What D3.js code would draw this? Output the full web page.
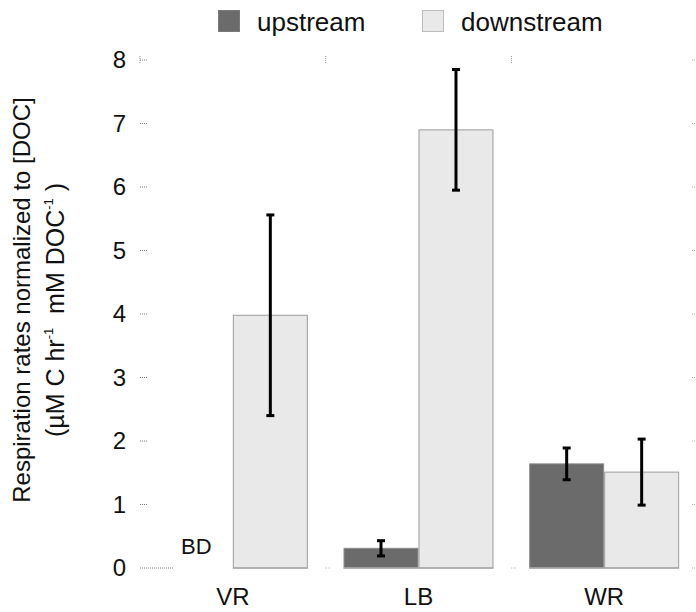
<!DOCTYPE html>
<html>
<head>
<meta charset="utf-8">
<script src="https://cdn.jsdelivr.net/npm/d3@7"></script>
<style>
  html, body { margin: 0; padding: 0; background: #fff; }
  svg { display: block; font-family: "Liberation Sans", Arial, sans-serif; }
</style>
</head>
<body>
<svg id="chart" width="696" height="612"></svg>
<script>
// Sites and series
const categories = ["VR", "LB", "WR"];
const seriesNames = ["upstream", "downstream"];
// Respiration rates normalized to [DOC]; null = below detection (BD)
const upstreamValues = [null, 0.31, 1.64];
const upstreamErr = [null, 0.12, 0.25];
const downstreamValues = [3.98, 6.90, 1.51];
const downstreamErr = [1.58, 0.95, 0.52];
const yTicks = [0, 1, 2, 3, 4, 5, 6, 7, 8];

const colors = { upstream: "#6b6b6b", downstream: "#e9e9e9" };
const strokes = { upstream: "#8c8c8c", downstream: "#9c9c9c" };

const rows = [];
categories.forEach((c, i) => {
  rows.push({ cat: c, series: "upstream", value: upstreamValues[i], err: upstreamErr[i] });
  rows.push({ cat: c, series: "downstream", value: downstreamValues[i], err: downstreamErr[i] });
});

const svg = d3.select("#chart");
const plotLeft = 140, plotRight = 697, plotTop = 60, plotBottom = 568;

const x0 = d3.scaleBand().domain(categories).range([plotLeft, plotRight]).paddingInner(0).paddingOuter(0);
const x1 = d3.scaleBand().domain(seriesNames).range([0, x0.bandwidth()])
  .paddingInner(0).paddingOuter(0.238);
const y = d3.scaleLinear().domain([0, 8]).range([plotBottom, plotTop]);

// Y axis: labels plus short dotted ticks, no domain line
const yAxis = d3.axisLeft(y).tickValues(yTicks).tickSize(0).tickPadding(0).tickFormat(d3.format("d"));
const ya = svg.append("g").attr("transform", `translate(${plotLeft - 14},0)`).call(yAxis);
ya.select(".domain").remove();
ya.selectAll("text").attr("font-size", 24).attr("fill", "#111")
  .attr("font-family", "'Liberation Sans', Arial, sans-serif");

svg.append("g").selectAll("line").data(yTicks).join("line")
  .attr("x1", plotLeft).attr("x2", d => d === 0 ? plotLeft + 34 : plotLeft + 7)
  .attr("y1", d => y(d)).attr("y2", d => y(d))
  .attr("stroke", "#777").attr("stroke-width", 1).attr("stroke-dasharray", "1,1");

// Faint ticks along the right edge
svg.append("g").selectAll("line").data(yTicks).join("line")
  .attr("x1", plotRight - 5).attr("x2", plotRight)
  .attr("y1", d => y(d)).attr("y2", d => y(d))
  .attr("stroke", "#aaa").attr("stroke-width", 1).attr("stroke-dasharray", "1,1");

// Small dotted marks at the group boundaries (top and bottom)
const bounds = [plotLeft, x0("LB"), x0("WR")];
svg.append("g").selectAll("line").data(bounds).join("line")
  .attr("x1", d => d).attr("x2", d => d)
  .attr("y1", plotTop - 4).attr("y2", plotTop + 4)
  .attr("stroke", "#888").attr("stroke-width", 1).attr("stroke-dasharray", "1,1");
svg.append("g").selectAll("line").data(bounds.slice(1)).join("line")
  .attr("x1", d => d).attr("x2", d => d + 4)
  .attr("y1", plotBottom).attr("y2", plotBottom)
  .attr("stroke", "#999").attr("stroke-width", 1).attr("stroke-dasharray", "1,2");

// Bars
const barRows = rows.filter(r => r.value !== null);
svg.append("g").selectAll("rect").data(barRows).join("rect")
  .attr("x", d => x0(d.cat) + x1(d.series) + 0.5)
  .attr("y", d => y(d.value))
  .attr("width", x1.bandwidth() - 1)
  .attr("height", d => y(0) - y(d.value))
  .attr("fill", d => colors[d.series])
  .attr("stroke", d => strokes[d.series])
  .attr("stroke-width", 1);

// Bottom edge of each drawn bar
svg.append("g").selectAll("line").data(barRows).join("line")
  .attr("x1", d => x0(d.cat) + x1(d.series))
  .attr("x2", d => x0(d.cat) + x1(d.series) + x1.bandwidth())
  .attr("y1", plotBottom).attr("y2", plotBottom)
  .attr("stroke", "#aaa").attr("stroke-width", 1.5);

// BD label where the value is below detection
svg.append("g").selectAll("text").data(rows.filter(r => r.value === null)).join("text")
  .attr("x", d => x0(d.cat) + x1(d.series) + x1.bandwidth() / 2 + 1)
  .attr("y", y(0) - 14)
  .attr("text-anchor", "middle").attr("font-size", 22).attr("fill", "#111")
  .text("BD");

// Error bars
const errRows = rows.filter(r => r.value !== null && r.err !== null);
const eg = svg.append("g").attr("stroke", "#000").attr("stroke-width", 3);
const cx = d => x0(d.cat) + x1(d.series) + x1.bandwidth() / 2;
eg.selectAll("line.v").data(errRows).join("line").attr("class", "v")
  .attr("x1", cx).attr("x2", cx)
  .attr("y1", d => y(d.value - d.err)).attr("y2", d => y(d.value + d.err));
eg.selectAll("line.t").data(errRows).join("line").attr("class", "t")
  .attr("x1", d => cx(d) - 4).attr("x2", d => cx(d) + 4)
  .attr("y1", d => y(d.value + d.err)).attr("y2", d => y(d.value + d.err));
eg.selectAll("line.b").data(errRows).join("line").attr("class", "b")
  .attr("x1", d => cx(d) - 4).attr("x2", d => cx(d) + 4)
  .attr("y1", d => y(d.value - d.err)).attr("y2", d => y(d.value - d.err));

// X axis labels
const xAxis = d3.axisBottom(x0).tickSize(0).tickPadding(0);
const xa = svg.append("g").attr("transform", `translate(0,${plotBottom + 20})`).call(xAxis);
xa.select(".domain").remove();
xa.selectAll("text").attr("font-size", 24).attr("fill", "#111").attr("dy", "0.72em")
  .attr("font-family", "'Liberation Sans', Arial, sans-serif");

// Legend
const legend = svg.append("g");
const legendPos = { upstream: 218, downstream: 422 };
seriesNames.forEach(s => {
  legend.append("rect").attr("x", legendPos[s] + 0.5).attr("y", 10.5).attr("width", 21).attr("height", 21)
    .attr("fill", colors[s]).attr("stroke", s === "upstream" ? "#7a7a7a" : "#bdbdbd");
  legend.append("text").attr("x", legendPos[s] + 39).attr("y", 31)
    .attr("font-size", 26).attr("fill", "#111").text(s);
});

// Y axis title (two lines)
svg.append("text").attr("transform", "translate(30,300) rotate(-90)")
  .attr("text-anchor", "middle").attr("font-size", 24).attr("fill", "#111")
  .text("Respiration rates normalized to [DOC]");
const t2 = svg.append("text").attr("transform", "translate(64,310) rotate(-90)")
  .attr("text-anchor", "middle").attr("font-size", 25).attr("fill", "#111")
  .style("white-space", "pre");
t2.append("tspan").text("(µM C hr");
t2.append("tspan").attr("font-size", 13).attr("dy", -11).text("-1");
t2.append("tspan").attr("dy", 11).text("  mM DOC");
t2.append("tspan").attr("font-size", 13).attr("dy", -11).text("-1");
t2.append("tspan").attr("dy", 11).text(" )");
</script>
</body>
</html>
